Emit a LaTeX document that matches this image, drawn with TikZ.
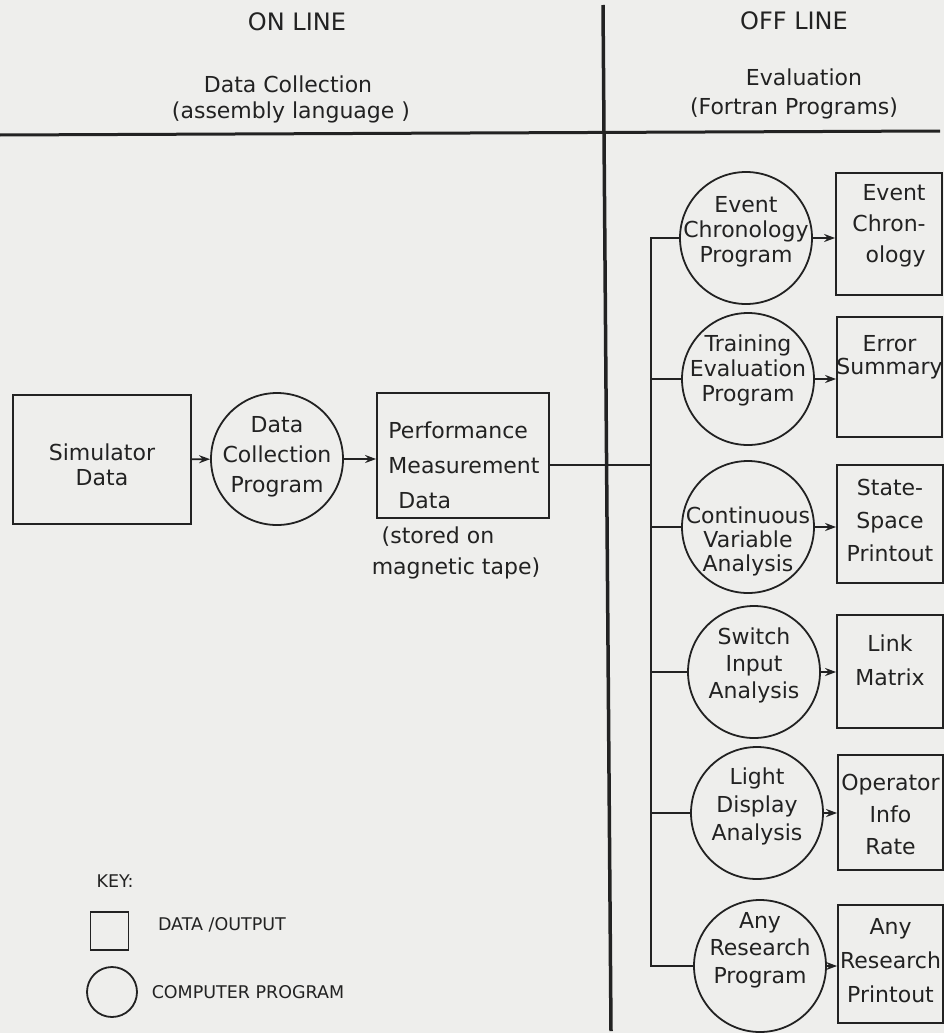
\documentclass[tikz,border=0pt]{standalone}
\usepackage{fontspec}
\setmainfont{DejaVu Sans}
\usetikzlibrary{arrows.meta}
\definecolor{ink}{RGB}{34,34,34}
\definecolor{paper}{RGB}{238,238,236}
\begin{document}
\begin{tikzpicture}[x=1pt,y=-1pt,
  every node/.style={text=ink},
  dbox/.style={draw=ink, line width=1.8pt, rectangle, inner sep=0pt},
  prog/.style={draw=ink, line width=1.8pt, circle, inner sep=0pt, minimum size=132pt},
  txt/.style={align=center, font=\fontsize{22}{#1}\selectfont, inner sep=0pt},
  txt/.default=27,
  hdr/.style={font=\fontsize{22}{26}\selectfont, inner sep=0pt},
  keyt/.style={font=\fontsize{17.5}{20}\selectfont, inner sep=0pt},
  conn/.style={draw=ink, line width=1.8pt},
  arr/.style={draw=ink, line width=1.8pt, -{Stealth[length=11pt,width=8pt]}},
  divider/.style={draw=ink, line width=3.5pt}
]
\fill[paper] (0,0) rectangle (944,1033);
\useasboundingbox (0,0) rectangle (944,1033);

% header
\coordinate (dtop) at (603,5);
\coordinate (dbot) at (611,1031);
\coordinate (hl) at (0,135);
\coordinate (hr) at (940,131);
\draw[divider] (dtop) -- (dbot);
\draw[divider, line width=3pt] (hl) -- (hr);
\node[hdr, font=\fontsize{24}{26}\selectfont] (on) at (297,22) {ON LINE};
\node[hdr, font=\fontsize{24}{26}\selectfont] (off) at (794,21) {OFF LINE};
\node[hdr] (dcol) at (288,84) {Data Collection};
\node[hdr] (asm) at (291,112) {(assembly language )};
\node[hdr] (eval) at (804,77) {Evaluation};
\node[hdr] (fort) at (794,108) {(Fortran Programs)};

% left chain
\node[dbox, minimum width=178pt, minimum height=129pt,
  label={[name=simt, txt=25, yshift=-5pt]center:{Simulator\\Data}}] (sim) at (102,459.5) {};
\node[prog, label={[name=dct, txt=30, yshift=2pt]center:{Data\\Collection\\Program}}] (dc) at (277,459) {};
\node[dbox, minimum width=172pt, minimum height=125pt,
  label={[name=pmt, txt=35, align=left, yshift=-10pt, xshift=1pt]center:{Performance\\Measurement\\\hspace{10pt}Data}}] (pm) at (463,455.5) {};
\node[txt] (st1) at (438,537) {(stored on};
\node[txt] (st2) at (456,568) {magnetic tape)};

\draw[arr] (sim) -- (dc);
\draw[arr] (dc.east) -- (dc.east -| pm.west);

% right column: programs
\node[prog, label={[name=c1t, txt=25, yshift=6pt]center:{Event\\Chronology\\Program}}] (c1) at (746,238) {};
\node[prog, label={[name=c2t, txt=25, yshift=9pt]center:{Training\\Evaluation\\Program}}] (c2) at (748,379) {};
\node[prog, label={[name=c3t, txt=24, yshift=-14pt]center:{Continuous\\Variable\\Analysis}}] (c3) at (748,527) {};
\node[prog, label={[name=c4t, txt=27, yshift=7pt]center:{Switch\\Input\\Analysis}}] (c4) at (754,672) {};
\node[prog, label={[name=c5t, txt=28, yshift=7pt]center:{Light\\Display\\Analysis}}] (c5) at (757,813) {};
\node[prog, label={[name=c6t, txt=27.5, yshift=16pt]center:{Any\\Research\\Program}}] (c6) at (760,966) {};

% right column: outputs
\node[dbox, minimum width=106pt, minimum height=122pt,
  label={[name=b1t, txt=31, align=right, yshift=8pt]center:{Event\\Chron-\\ology}}] (b1) at (889,234) {};
\node[dbox, minimum width=105pt, minimum height=120pt,
  label={[name=b2t, txt=23, yshift=20pt]center:{Error\\Summary}}] (b2) at (889.5,377) {};
\node[dbox, minimum width=106pt, minimum height=118pt,
  label={[name=b3t, txt=33, yshift=4pt]center:{State-\\Space\\Printout}}] (b3) at (890,524) {};
\node[dbox, minimum width=106pt, minimum height=113pt,
  label={[name=b4t, txt=34, yshift=11.5pt]center:{Link\\Matrix}}] (b4) at (890,671.5) {};
\node[dbox, minimum width=105pt, minimum height=115pt,
  label={[name=b5t, txt=32, yshift=-2pt]center:{Operator\\Info\\Rate}}] (b5) at (890.5,812.5) {};
\node[dbox, minimum width=105pt, minimum height=118pt,
  label={[name=b6t, txt=34, yshift=3pt]center:{Any\\Research\\Printout}}] (b6) at (890.5,964) {};

% branch
\coordinate (brtop) at (651,238);
\coordinate (brbot) at (651,966);
\coordinate (pmout) at ([yshift=-9.5pt]pm.east);
\draw[conn] (pmout) -- (pmout -| brtop);
\draw[conn] (c1.west) -- (brtop) -- (brbot) -- (c6.west);
\draw[conn] (c2.west) -- (c2.west -| brtop);
\draw[conn] (c3.west) -- (c3.west -| brtop);
\draw[conn] (c4.west) -- (c4.west -| brtop);
\draw[conn] (c5.west) -- (c5.west -| brtop);

\draw[arr] (c1.east) -- (c1.east -| b1.west);
\draw[arr] (c2.east) -- (c2.east -| b2.west);
\draw[arr] (c3.east) -- (c3.east -| b3.west);
\draw[arr] (c4.east) -- (c4.east -| b4.west);
\draw[arr] (c5.east) -- (c5.east -| b5.west);
\draw[arr] (c6.east) -- (c6.east -| b6.west);

% key
\node[keyt] (key) at (115,881) {KEY:};
\node[dbox, minimum size=38pt] (ksq) at (109.5,931) {};
\node[keyt] (kdata) at (222,925) {DATA /OUTPUT};
\node[prog, minimum size=50pt] (kci) at (112,992) {};
\node[keyt] (kprog) at (248,992) {COMPUTER PROGRAM};
\end{tikzpicture}
\end{document}
